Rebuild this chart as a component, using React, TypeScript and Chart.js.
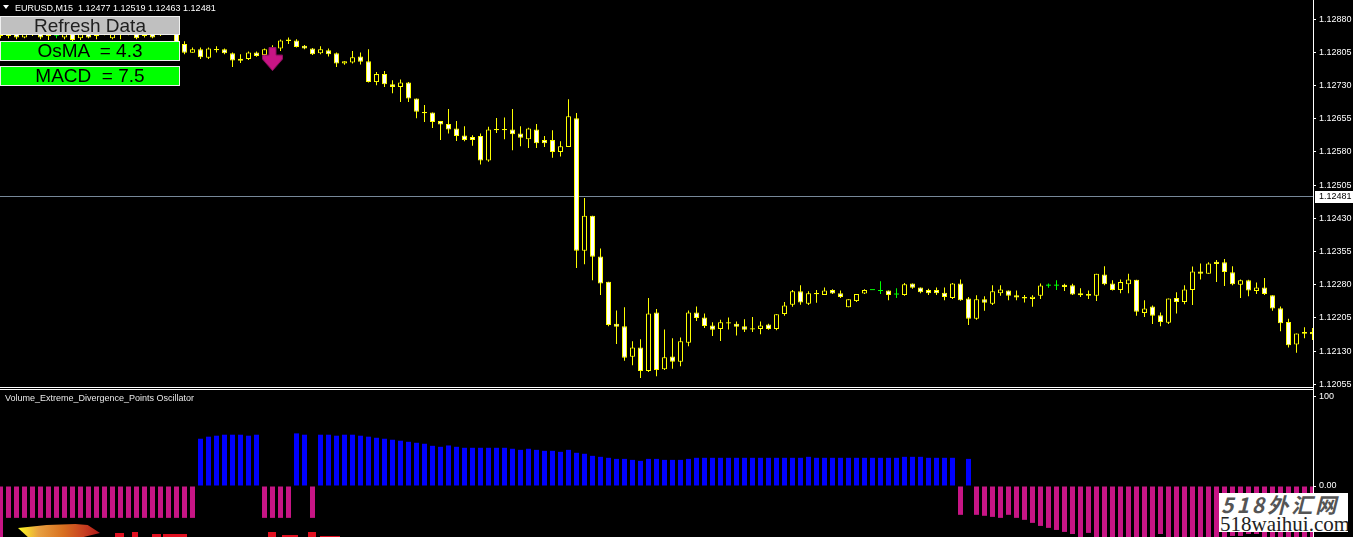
import React, { useEffect, useRef } from 'react';
import { Chart, registerables } from 'chart.js';

Chart.register(...registerables);

const symbolTitle = 'EURUSD,M15';
const headerValues = [1.12477, 1.12519, 1.12463, 1.12481];
const currentPrice = 1.12481;
const osmaValue = '4.3';
const macdValue = '7.5';
const oscTitle = 'Volume_Extreme_Divergence_Points Oscillator';

const opens = [
  1.12855, 1.12842, 1.12853, 1.12839, 1.12855, 1.12851, 1.12842, 1.12844, 1.12839, 1.12860,
  1.12837, 1.12848, 1.12842, 1.12858, 1.12837, 1.12855, 1.12846, 1.12855, 1.12842, 1.12848,
  1.12844, 1.12851, 1.12855, 1.12824, 1.12804, 1.12812, 1.12793, 1.12812, 1.12812, 1.12803,
  1.12791, 1.12790, 1.12805, 1.12799, 1.12817, 1.12814, 1.12834, 1.12832, 1.12820, 1.12814,
  1.12803, 1.12810, 1.12803, 1.12780, 1.12782, 1.12796, 1.12785, 1.12738, 1.12756, 1.12733,
  1.12727, 1.12737, 1.12701, 1.12670, 1.12669, 1.12650, 1.12643, 1.12633, 1.12617, 1.12614,
  1.12616, 1.12561, 1.12631, 1.12630, 1.12631, 1.12622, 1.12609, 1.12631, 1.12607, 1.12607,
  1.12580, 1.12591, 1.12656, 1.12357, 1.12436, 1.12344, 1.12287, 1.12192, 1.12186, 1.12117,
  1.12138, 1.12085, 1.12217, 1.12089, 1.12118, 1.12106, 1.12149, 1.12217, 1.12206, 1.12188,
  1.12180, 1.12195, 1.12192, 1.12186, 1.12181, 1.12180, 1.12190, 1.12180, 1.12214, 1.12235,
  1.12265, 1.12237, 1.12261, 1.12257, 1.12268, 1.12261, 1.12229, 1.12243, 1.12260, 1.12269,
  1.12267, 1.12267, 1.12259, 1.12257, 1.12283, 1.12274, 1.12268, 1.12268, 1.12262, 1.12250,
  1.12283, 1.12249, 1.12203, 1.12247, 1.12237, 1.12261, 1.12267, 1.12256, 1.12252, 1.12248,
  1.12255, 1.12279, 1.12279, 1.12280, 1.12279, 1.12261, 1.12259, 1.12255, 1.12303, 1.12283,
  1.12268, 1.12281, 1.12291, 1.12216, 1.12231, 1.12211, 1.12194, 1.12250, 1.12241, 1.12268,
  1.12310, 1.12305, 1.12332, 1.12331, 1.12308, 1.12280, 1.12290, 1.12266, 1.12274, 1.12256,
  1.12227, 1.12196, 1.12145, 1.12173, 1.12173,
];

const highs = [
  1.12860, 1.12858, 1.12860, 1.12855, 1.12862, 1.12855, 1.12858, 1.12851, 1.12853, 1.12864,
  1.12855, 1.12853, 1.12860, 1.12862, 1.12853, 1.12860, 1.12862, 1.12860, 1.12858, 1.12853,
  1.12860, 1.12866, 1.12878, 1.12830, 1.12816, 1.12816, 1.12816, 1.12819, 1.12814, 1.12805,
  1.12801, 1.12807, 1.12807, 1.12814, 1.12821, 1.12834, 1.12839, 1.12835, 1.12822, 1.12815,
  1.12819, 1.12814, 1.12805, 1.12785, 1.12808, 1.12805, 1.12812, 1.12761, 1.12763, 1.12742,
  1.12744, 1.12738, 1.12701, 1.12686, 1.12669, 1.12650, 1.12677, 1.12650, 1.12638, 1.12618,
  1.12622, 1.12637, 1.12657, 1.12658, 1.12677, 1.12638, 1.12635, 1.12643, 1.12616, 1.12629,
  1.12604, 1.12699, 1.12668, 1.12476, 1.12436, 1.12362, 1.12287, 1.12222, 1.12229, 1.12152,
  1.12157, 1.12250, 1.12225, 1.12179, 1.12159, 1.12161, 1.12222, 1.12231, 1.12215, 1.12195,
  1.12201, 1.12206, 1.12197, 1.12202, 1.12207, 1.12197, 1.12192, 1.12213, 1.12241, 1.12268,
  1.12279, 1.12265, 1.12268, 1.12274, 1.12270, 1.12267, 1.12247, 1.12259, 1.12270, 1.12269,
  1.12288, 1.12267, 1.12272, 1.12284, 1.12283, 1.12274, 1.12271, 1.12274, 1.12274, 1.12284,
  1.12292, 1.12252, 1.12256, 1.12254, 1.12279, 1.12279, 1.12267, 1.12267, 1.12257, 1.12256,
  1.12283, 1.12283, 1.12290, 1.12282, 1.12282, 1.12272, 1.12267, 1.12305, 1.12322, 1.12290,
  1.12292, 1.12305, 1.12291, 1.12245, 1.12233, 1.12217, 1.12249, 1.12263, 1.12279, 1.12321,
  1.12328, 1.12331, 1.12336, 1.12338, 1.12322, 1.12292, 1.12291, 1.12285, 1.12295, 1.12256,
  1.12231, 1.12203, 1.12170, 1.12184, 1.12182,
];

const lows = [
  1.12837, 1.12837, 1.12835, 1.12837, 1.12842, 1.12835, 1.12833, 1.12837, 1.12835, 1.12830,
  1.12833, 1.12837, 1.12835, 1.12844, 1.12835, 1.12835, 1.12844, 1.12835, 1.12839, 1.12837,
  1.12842, 1.12846, 1.12824, 1.12801, 1.12804, 1.12790, 1.12790, 1.12805, 1.12801, 1.12772,
  1.12781, 1.12788, 1.12795, 1.12797, 1.12805, 1.12808, 1.12824, 1.12816, 1.12812, 1.12799,
  1.12801, 1.12796, 1.12772, 1.12777, 1.12780, 1.12778, 1.12737, 1.12731, 1.12727, 1.12713,
  1.12693, 1.12693, 1.12656, 1.12648, 1.12634, 1.12607, 1.12622, 1.12605, 1.12604, 1.12594,
  1.12552, 1.12558, 1.12623, 1.12609, 1.12584, 1.12593, 1.12589, 1.12589, 1.12591, 1.12567,
  1.12570, 1.12591, 1.12318, 1.12326, 1.12290, 1.12257, 1.12186, 1.12146, 1.12108, 1.12098,
  1.12069, 1.12083, 1.12073, 1.12087, 1.12090, 1.12096, 1.12141, 1.12198, 1.12182, 1.12164,
  1.12153, 1.12179, 1.12165, 1.12173, 1.12173, 1.12168, 1.12178, 1.12177, 1.12210, 1.12230,
  1.12235, 1.12234, 1.12239, 1.12257, 1.12259, 1.12250, 1.12229, 1.12241, 1.12259, 1.12269,
  1.12259, 1.12245, 1.12250, 1.12255, 1.12271, 1.12261, 1.12257, 1.12257, 1.12245, 1.12248,
  1.12244, 1.12189, 1.12201, 1.12221, 1.12234, 1.12255, 1.12245, 1.12245, 1.12240, 1.12230,
  1.12248, 1.12273, 1.12268, 1.12266, 1.12257, 1.12252, 1.12248, 1.12243, 1.12279, 1.12267,
  1.12261, 1.12261, 1.12210, 1.12207, 1.12191, 1.12186, 1.12191, 1.12215, 1.12236, 1.12234,
  1.12292, 1.12305, 1.12286, 1.12277, 1.12279, 1.12250, 1.12254, 1.12259, 1.12257, 1.12221,
  1.12175, 1.12138, 1.12126, 1.12159, 1.12155,
];

const closes = [
  1.12842, 1.12853, 1.12839, 1.12848, 1.12846, 1.12839, 1.12851, 1.12844, 1.12848, 1.12833,
  1.12846, 1.12839, 1.12855, 1.12848, 1.12848, 1.12846, 1.12858, 1.12837, 1.12853, 1.12839,
  1.12855, 1.12862, 1.12826, 1.12804, 1.12812, 1.12794, 1.12814, 1.12811, 1.12803, 1.12787,
  1.12786, 1.12805, 1.12797, 1.12812, 1.12808, 1.12832, 1.12831, 1.12817, 1.12814, 1.12801,
  1.12812, 1.12801, 1.12780, 1.12785, 1.12794, 1.12784, 1.12738, 1.12756, 1.12733, 1.12727,
  1.12737, 1.12701, 1.12671, 1.12668, 1.12648, 1.12642, 1.12631, 1.12616, 1.12607, 1.12607,
  1.12561, 1.12631, 1.12630, 1.12631, 1.12620, 1.12612, 1.12633, 1.12600, 1.12600, 1.12580,
  1.12593, 1.12661, 1.12357, 1.12436, 1.12343, 1.12283, 1.12189, 1.12185, 1.12115, 1.12138,
  1.12085, 1.12215, 1.12087, 1.12116, 1.12106, 1.12152, 1.12217, 1.12205, 1.12187, 1.12178,
  1.12195, 1.12193, 1.12185, 1.12178, 1.12179, 1.12188, 1.12180, 1.12213, 1.12233, 1.12265,
  1.12240, 1.12261, 1.12259, 1.12267, 1.12260, 1.12252, 1.12247, 1.12259, 1.12268, 1.12269,
  1.12267, 1.12257, 1.12259, 1.12281, 1.12273, 1.12263, 1.12261, 1.12261, 1.12252, 1.12283,
  1.12245, 1.12203, 1.12247, 1.12239, 1.12265, 1.12269, 1.12255, 1.12251, 1.12249, 1.12253,
  1.12278, 1.12279, 1.12279, 1.12275, 1.12258, 1.12256, 1.12255, 1.12305, 1.12281, 1.12268,
  1.12286, 1.12292, 1.12219, 1.12226, 1.12210, 1.12196, 1.12249, 1.12241, 1.12269, 1.12310,
  1.12305, 1.12328, 1.12327, 1.12309, 1.12281, 1.12290, 1.12267, 1.12274, 1.12259, 1.12226,
  1.12193, 1.12143, 1.12170, 1.12169, 1.12168,
];

const oscillator = [
  -60, -35.6, -35.6, -35.6, -35.6, -35.6, -35.6, -35.6, -35.6, -35.6,
  -35.6, -35.6, -35.6, -35.6, -35.6, -35.6, -35.6, -35.6, -35.6, -35.6,
  -35.6, -35.6, -35.6, -35.6, -35.6, 52.8, 55.1, 56.2, 57.3, 57.3,
  57.3, 56.2, 57.3, -35.6, -35.6, -35.6, -35.6, 58.8, 57.3, -35.6,
  57.3, 57.3, 56.2, 57.3, 57.3, 56.2, 55.1, 53.9, 52.8, 51.7,
  50.6, 49.4, 48.3, 47.2, 44.9, 43.8, 45.3, 43.8, 42.7, 42.7,
  42.7, 42.7, 42.7, 42.7, 41.6, 40.4, 41.6, 40.4, 39.3, 39.3,
  38.2, 40.4, 37.1, 36.0, 33.7, 32.6, 31.5, 30.3, 30.3, 29.2,
  28.1, 30.3, 30.3, 29.2, 29.2, 29.2, 30.3, 31.5, 31.5, 31.5,
  31.5, 31.5, 31.5, 31.5, 31.5, 31.5, 31.5, 31.5, 31.5, 31.5,
  31.5, 32.6, 31.5, 31.5, 31.5, 31.5, 31.5, 31.5, 31.5, 31.5,
  31.5, 31.5, 31.5, 32.6, 32.6, 32.6, 31.5, 31.5, 31.5, 31.5,
  -32.2, 30.3, -32.2, -33.3, -34.5, -35.6, -32.2, -35.6, -37.8, -41.2,
  -44.6, -46.8, -49.1, -51.3, -53.6, -60, -52.4, -60, -60, -60,
  -60, -60, -60, -60, -60, -53.6, -60, -60, -60, -60,
  -60, -60, -60, -60, -55.8, -55.8, -53.6, -53.6, -60, -60,
  -60, -60, -60, -60, -60,
];

const priceTicks = [1.1288, 1.12805, 1.1273, 1.12655, 1.1258, 1.12505, 1.1243, 1.12355, 1.1228, 1.12205, 1.1213, 1.12055];
const oscTicks = [100, 0];
const arrowBar = 34;
const arrowPrice = 1.1279;

const W = 1353;
const H = 537;
const priceH = 388;
const oscH = 149;
const axisW = 40;
const xMin = -0.0625;
const xMax = 164.0625;
const priceMax = 1.129235;
const priceMin = 1.120466;
const oscMax = 109.5;
const oscMin = -56.98;

const FONT = '"Liberation Sans", Arial, sans-serif';
const candleColor = '#ffff00';
const dojiColor = '#00ff00';
const bullFill = '#000000';
const bearFill = '#ffffff';
const oscUp = '#0000ff';
const oscDown = '#c71585';

function makeArrow(): HTMLCanvasElement {
  const c = document.createElement('canvas');
  c.width = 21;
  c.height = 24;
  const g = c.getContext('2d')!;
  g.beginPath();
  g.moveTo(7, 0.5);
  g.lineTo(14, 0.5);
  g.lineTo(14, 8);
  g.lineTo(20.5, 8);
  g.lineTo(20.5, 12);
  g.lineTo(10.5, 23.5);
  g.lineTo(0.5, 12);
  g.lineTo(0.5, 8);
  g.lineTo(7, 8);
  g.closePath();
  g.fillStyle = '#c71585';
  g.fill();
  g.strokeStyle = '#8e1060';
  g.lineWidth = 1;
  g.stroke();
  return c;
}

function yAxis(min: number, max: number, ticks: number[], fmt: (v: number) => string) {
  return {
    type: 'linear' as const,
    position: 'right' as const,
    min,
    max,
    beginAtZero: false,
    afterFit: (s: any) => {
      s.width = axisW;
      s.paddingTop = 0;
      s.paddingBottom = 0;
    },
    afterBuildTicks: (s: any) => {
      s.ticks = ticks.map((v) => ({ value: v }));
    },
    ticks: {
      autoSkip: false,
      color: '#ffffff',
      padding: 3,
      font: { family: FONT, size: 9 },
      callback: (v: any) => fmt(Number(v)),
    },
    grid: { drawOnChartArea: false, drawTicks: true, tickLength: 3, color: '#ffffff', lineWidth: 1 },
    border: { display: true, color: '#ffffff', width: 1 },
  };
}

const xAxis = { type: 'linear' as const, min: xMin, max: xMax, display: false, offset: false };

export default function App() {
  const priceRef = useRef<HTMLCanvasElement>(null);
  const oscRef = useRef<HTMLCanvasElement>(null);

  useEffect(() => {
    const idx = opens.map((_, i) => i);
    const px = (priceMax - priceMin) / priceH;
    const isDoji = (i: number) => opens[i] === closes[i];

    const wickData = idx.map((i) => ({ x: i, y: [lows[i], highs[i]] }));
    const wickColors = idx.map((i) => (isDoji(i) ? dojiColor : candleColor));
    const bodyIdx = idx.filter((i) => !isDoji(i));
    const bodyData = bodyIdx.map((i) => {
      let lo = Math.min(opens[i], closes[i]);
      let hi = Math.max(opens[i], closes[i]);
      if (hi - lo < px * 1.2) {
        const m = (lo + hi) / 2;
        lo = m - px * 0.6;
        hi = m + px * 0.6;
      }
      return { x: i, y: [lo, hi] };
    });
    const bodyFill = bodyIdx.map((i) => (closes[i] > opens[i] ? bullFill : bearFill));
    const dojiData = idx.filter(isDoji).map((i) => ({ x: i, y: [closes[i] - px / 2, closes[i] + px / 2] }));

    const pricePlugin = {
      id: 'pricePane',
      beforeDatasetsDraw(chart: any) {
        const { ctx, chartArea } = chart;
        const y = Math.round(chart.scales.y.getPixelForValue(currentPrice));
        ctx.save();
        ctx.fillStyle = '#778899';
        ctx.fillRect(chartArea.left, y, chartArea.right - chartArea.left, 1);
        ctx.restore();
      },
      afterDraw(chart: any) {
        const { ctx, chartArea } = chart;
        const y = Math.round(chart.scales.y.getPixelForValue(currentPrice));
        ctx.save();
        ctx.fillStyle = '#ffffff';
        ctx.fillRect(chartArea.right + 2, y - 5, 40, 12);
        ctx.fillStyle = '#000000';
        ctx.font = '9px ' + FONT;
        ctx.textBaseline = 'middle';
        ctx.textAlign = 'left';
        ctx.fillText(currentPrice.toFixed(5), chartArea.right + 6, y + 1);
        ctx.fillStyle = '#ffffff';
        ctx.fillRect(chartArea.left, chartArea.bottom - 1, chartArea.right - chartArea.left, 1);
        ctx.restore();
      },
    };

    const oscPlugin = {
      id: 'oscPane',
      afterDraw(chart: any) {
        const { ctx, chartArea } = chart;
        ctx.save();
        ctx.fillStyle = '#ffffff';
        ctx.fillRect(chartArea.left, 1, chartArea.right - chartArea.left, 1);
        ctx.restore();
      },
    };

    const common = {
      responsive: false,
      animation: false as const,
      events: [] as any[],
      layout: { padding: 0, autoPadding: false },
      plugins: { legend: { display: false }, tooltip: { enabled: false } },
    };

    const priceChart = new Chart(priceRef.current!, {
      type: 'bar',
      data: {
        datasets: [
          {
            type: 'scatter',
            data: [{ x: arrowBar, y: arrowPrice }],
            pointStyle: makeArrow(),
            pointRadius: 10,
            clip: false,
            order: 0,
          } as any,
          {
            data: dojiData,
            backgroundColor: dojiColor,
            borderWidth: 0,
            barThickness: 5,
            grouped: false,
            inflateAmount: 0,
            order: 1,
          },
          {
            data: bodyData,
            backgroundColor: bodyFill,
            borderColor: candleColor,
            borderWidth: 1,
            borderSkipped: false,
            barThickness: 5,
            grouped: false,
            inflateAmount: 0,
            order: 2,
          },
          {
            data: wickData,
            backgroundColor: wickColors,
            borderWidth: 0,
            barThickness: 1,
            grouped: false,
            inflateAmount: 0,
            order: 3,
          },
        ] as any,
      },
      options: {
        ...common,
        scales: {
          x: xAxis,
          y: yAxis(priceMin, priceMax, priceTicks, (v) => v.toFixed(5)),
        },
      } as any,
      plugins: [pricePlugin],
    });

    const oscChart = new Chart(oscRef.current!, {
      type: 'bar',
      data: {
        datasets: [
          {
            data: idx.map((i) => ({ x: i, y: oscillator[i] })),
            backgroundColor: idx.map((i) => (oscillator[i] >= 0 ? oscUp : oscDown)),
            borderWidth: 0,
            barThickness: 5,
            grouped: false,
            inflateAmount: 0,
          },
        ] as any,
      },
      options: {
        ...common,
        scales: {
          x: xAxis,
          y: yAxis(oscMin, oscMax, oscTicks, (v) => (v === 0 ? '0.00' : String(v))),
        },
      } as any,
      plugins: [oscPlugin],
    });

    return () => {
      priceChart.destroy();
      oscChart.destroy();
    };
  }, []);

  const headerText = `${symbolTitle}  ${headerValues.map((v) => v.toFixed(5)).join(' ')}`;

  const btn = (top: number, height: number, bg: string, color: string): React.CSSProperties => ({
    position: 'absolute',
    left: 0,
    top,
    width: 180,
    height,
    boxSizing: 'border-box',
    background: bg,
    border: '1px solid #f0f0f0',
    color,
    font: `19px ${FONT}`,
    lineHeight: `${height - 2}px`,
    textAlign: 'center',
    whiteSpace: 'pre',
    overflow: 'hidden',
  });

  const redBits: [number, number, number, number][] = [
    [115, 533, 9, 4], [132, 532, 6, 5], [152, 534, 9, 3], [163, 534, 24, 3],
    [268, 532, 8, 5], [282, 535, 16, 2], [308, 532, 8, 5], [320, 536, 20, 1],
  ];

  return (
    <div style={{ position: 'relative', width: W, height: H, background: '#000', overflow: 'hidden' }}>
      <style>{'html,body{margin:0;padding:0;background:#000;}'}</style>
      <canvas
        ref={priceRef}
        width={W}
        height={priceH}
        style={{ position: 'absolute', left: 0, top: 0, width: W, height: priceH, display: 'block' }}
      />
      <canvas
        ref={oscRef}
        width={W}
        height={oscH}
        style={{ position: 'absolute', left: 0, top: priceH, width: W, height: oscH, display: 'block' }}
      />
      <div
        style={{
          position: 'absolute', left: 3, top: 5, width: 0, height: 0,
          borderLeft: '3px solid transparent', borderRight: '3px solid transparent', borderTop: '4px solid #fff',
        }}
      />
      <div
        style={{
          position: 'absolute', left: 15, top: 2, font: `9px ${FONT}`, lineHeight: '12px',
          color: '#ffffff', whiteSpace: 'pre',
        }}
      >
        {headerText}
      </div>
      <div style={btn(16, 19, '#c0c0c0', '#202020')}>Refresh Data</div>
      <div style={btn(41, 20, '#00ff00', '#000000')}>{`OsMA  = ${osmaValue}`}</div>
      <div style={btn(66, 20, '#00ff00', '#000000')}>{`MACD  = ${macdValue}`}</div>
      <div
        style={{
          position: 'absolute', left: 5, top: 392, font: `9px ${FONT}`, lineHeight: '12px',
          color: '#e8e8e8', whiteSpace: 'pre',
        }}
      >
        {oscTitle}
      </div>
      <div
        style={{
          position: 'absolute', left: 18, top: 524, width: 82, height: 13,
          background: 'linear-gradient(90deg, #ffff20 0%, #e8a040 25%, #d87020 55%, #c84020 80%, #b01818 100%)',
          clipPath: 'polygon(0% 30%, 35% 8%, 70% 0%, 85% 8%, 100% 70%, 80% 100%, 12% 100%)',
        }}
      />
      {redBits.map(([l, t, w, h], i) => (
        <div key={i} style={{ position: 'absolute', left: l, top: t, width: w, height: h, background: '#e01020' }} />
      ))}
      <div
        style={{
          position: 'absolute', left: 1219, top: 493, width: 129, height: 39,
          background: '#ffffff', overflow: 'hidden',
        }}
      >
        <div
          style={{
            position: 'absolute', left: 2, top: 0, font: 'italic 700 21px "Noto Sans CJK SC", sans-serif',
            lineHeight: '22px', color: '#555555', letterSpacing: '3px', whiteSpace: 'nowrap',
          }}
        >
          518外汇网
        </div>
        <div
          style={{
            position: 'absolute', left: 1, top: 21, font: '21px "Liberation Serif", serif',
            lineHeight: '21px', color: '#222222', whiteSpace: 'nowrap',
          }}
        >
          518waihui.com
        </div>
      </div>
    </div>
  );
}
